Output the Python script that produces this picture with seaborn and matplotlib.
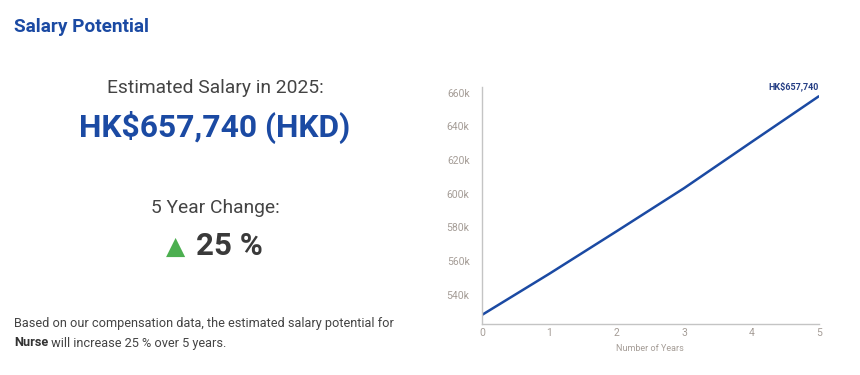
import matplotlib
matplotlib.use("Agg")
import matplotlib.pyplot as plt
import seaborn as sns
import pandas as pd

years = [0, 1, 2, 3, 4, 5]
salary = [528200, 552600, 577800, 603300, 630600, 657740]
yticks = [540000, 560000, 580000, 600000, 620000, 640000, 660000]
ytick_labels = ["540k", "560k", "580k", "600k", "620k", "640k", "660k"]
end_label = "HK$657,740"

BLUE = "#1b4aa3"
GREY = "#444444"
TICK = "#a59d97"

sns.set_style("white")
plt.rcParams["font.family"] = ["Roboto", "DejaVu Sans"]

df = pd.DataFrame({"year": years, "salary": salary})

fig = plt.figure(figsize=(8.6, 3.75), dpi=100)
ax = fig.add_axes([0.5605, 0.136, 0.3915, 0.633])
sns.lineplot(data=df, x="year", y="salary", ax=ax, color=BLUE, linewidth=1.8)
ax.set_xlim(0, 5)
ax.set_ylim(522800, 663500)
ax.set_yticks(yticks)
ax.set_yticklabels(ytick_labels)
ax.set_xticks(years)
ax.tick_params(axis="both", colors=TICK, labelsize=7.5, length=0)
ax.tick_params(axis="y", pad=9)
ax.tick_params(axis="x", pad=3)
ax.set_ylabel("")
ax.set_xlabel("Number of Years", color=TICK, fontsize=6.5, labelpad=4)
for side in ["top", "right"]:
    ax.spines[side].set_visible(False)
for side in ["left", "bottom"]:
    ax.spines[side].set_color("#c4c4c4")
    ax.spines[side].set_linewidth(1)
ax.annotate(end_label, (years[-1], salary[-1]), xytext=(0, 4), textcoords="offset points",
            ha="right", va="bottom", fontsize=6.5, fontweight="bold", color="#263f85")

# left panel texts
fig.text(14 / 860, 1 - 27 / 375, "Salary Potential", fontsize=13.7, fontweight="bold",
         color=BLUE, va="center", ha="left")
fig.text(215 / 860, 1 - 88 / 375, "Estimated Salary in 2025:", fontsize=13.9,
         color=GREY, va="center", ha="center")
fig.text(215 / 860, 1 - 127 / 375, "HK$657,740 (HKD)", fontsize=22.9, fontweight="bold",
         color=BLUE, va="center", ha="center")
fig.text(215 / 860, 1 - 208 / 375, "5 Year Change:", fontsize=13.9,
         color=GREY, va="center", ha="center")
fig.text(175.5 / 860, 1 - 247 / 375, "▲", fontsize=18, color="#4caf50",
         va="center", ha="center", family="DejaVu Sans")
fig.text(196 / 860, 1 - 246 / 375, "25 %", fontsize=22.5, fontweight="bold",
         color="#3a3a3a", va="center", ha="left")
fig.text(14 / 860, 1 - 324 / 375,
         "Based on our compensation data, the estimated salary potential for",
         fontsize=9.2, color=GREY, va="center", ha="left")
t = fig.text(14 / 860, 1 - 343 / 375, "Nurse", fontsize=9.2, fontweight="bold",
             color="#333333", va="center", ha="left")
fig.canvas.draw()
bb = t.get_window_extent()
fig.text(bb.x1 / fig.bbox.width, 1 - 343 / 375, " will increase 25 % over 5 years.",
         fontsize=9.2, color=GREY, va="center", ha="left")

fig.savefig("out.png", dpi=100)
